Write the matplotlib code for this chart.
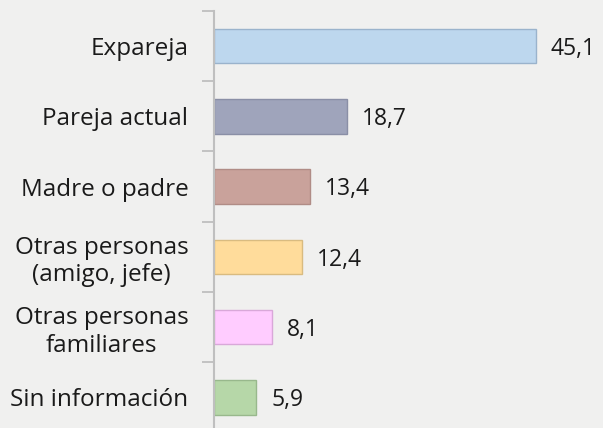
import matplotlib.pyplot as plt
from matplotlib.ticker import FixedLocator

categories = ["Expareja", "Pareja actual", "Madre o padre",
              "Otras personas\n(amigo, jefe)", "Otras personas\nfamiliares",
              "Sin información"]
values = [45.1, 18.7, 13.4, 12.4, 8.1, 5.9]
value_labels = ["45,1", "18,7", "13,4", "12,4", "8,1", "5,9"]
colors = ["#bdd7ee", "#9fa4bb", "#c9a29b", "#ffdc9b", "#ffccff", "#b6d7a8"]
edges = ["#9ab3cc", "#8a8fa6", "#b08c86", "#d9bb80", "#d9a8d9", "#98b88c"]

plt.rcParams['font.family'] = ['Open Sans', 'DejaVu Sans']
bg = "#f0f0ef"

fig = plt.figure(figsize=(6.03, 4.28), dpi=100, facecolor=bg)
ax = fig.add_axes([214/603, -0.0107, 50*7.13/603, 0.9853])
ax.set_facecolor(bg)

y = list(range(len(categories)))
ax.barh(y, values, height=0.49, color=colors, edgecolor=edges, linewidth=1)
for yi, v, lab in zip(y, values, value_labels):
    ax.text(v + 2.1, yi + 0.04, lab, va='center', ha='left', fontsize=16.5, color='#1a1a1a')

ax.set_xlim(0, 50)
ax.set_ylim(5.5, -0.5)
ax.set_yticks(y)
ax.set_yticklabels(categories, fontsize=17.5, color='#1a1a1a', ha='right',
                   multialignment='center', linespacing=1.2)
ax.yaxis.set_minor_locator(FixedLocator([i - 0.5 for i in range(7)]))
ax.tick_params(axis='y', which='major', length=0, pad=18.5)
ax.tick_params(axis='y', which='minor', length=9, width=1.3, color='#bfbfbf')
ax.set_xticks([])
for s in ['top', 'right', 'bottom']:
    ax.spines[s].set_visible(False)
ax.spines['left'].set_color('#bfbfbf')
ax.spines['left'].set_linewidth(1.5)

fig.savefig("out.png", dpi=100, facecolor=bg)
